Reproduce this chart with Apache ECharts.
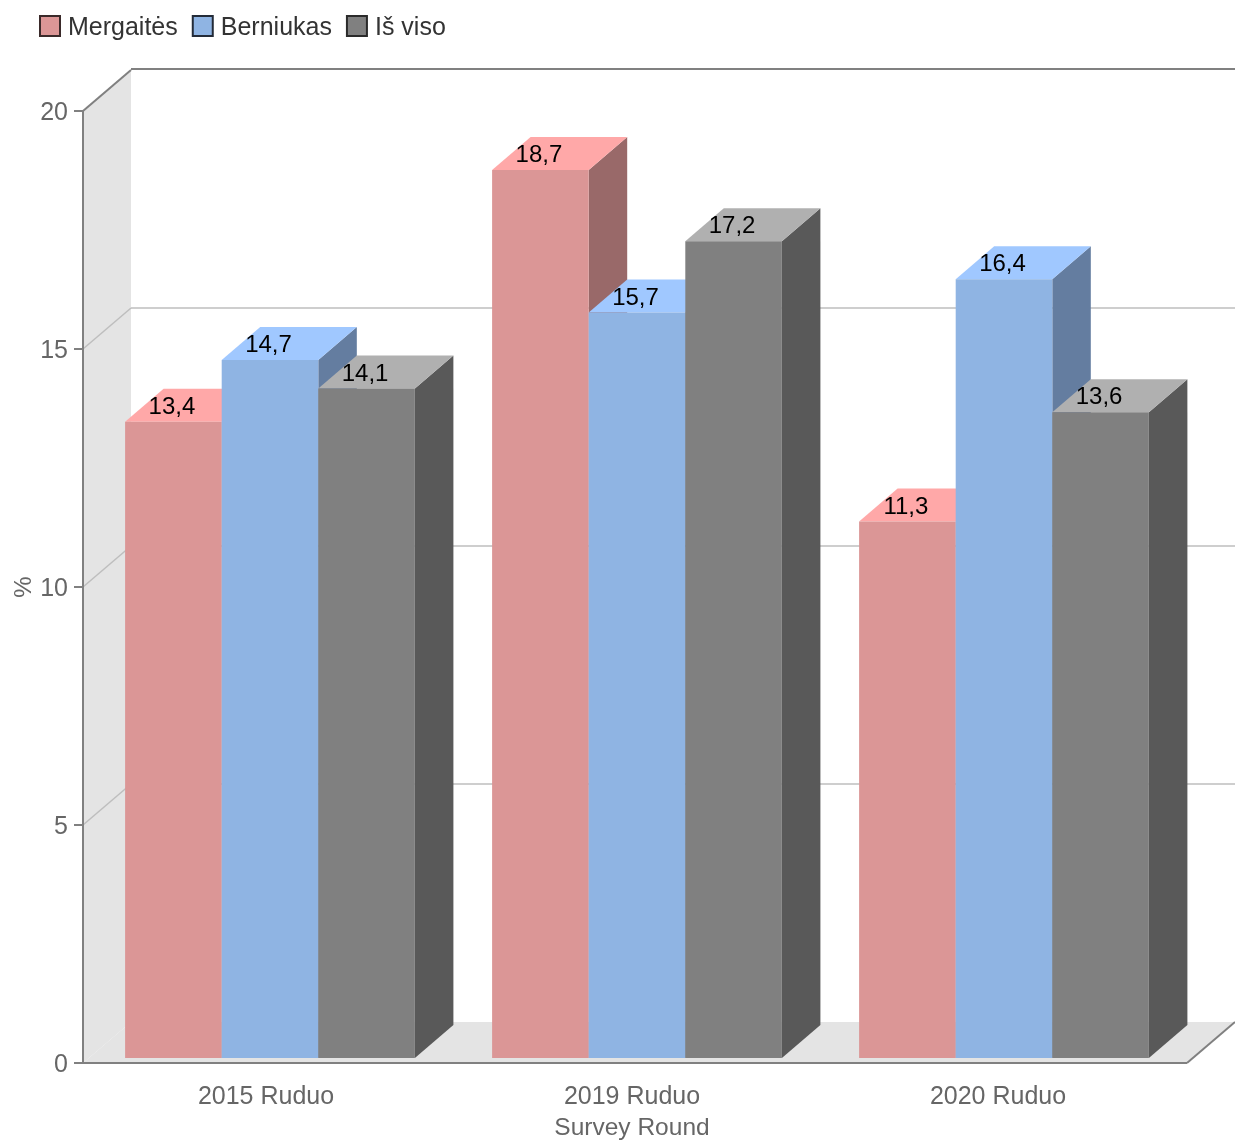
<!DOCTYPE html>
<html>
<head>
<meta charset="utf-8">
<style>html,body{margin:0;padding:0;background:#fff}#c{width:1235px;height:1141px}</style>
<script src="https://cdn.jsdelivr.net/npm/echarts@6/dist/echarts.min.js"></script>
</head>
<body>
<div id="c"></div>
<script>
const categories = ['2015 Ruduo', '2019 Ruduo', '2020 Ruduo'];
const girls = [13.4, 18.7, 11.3];
const boys = [14.7, 15.7, 16.4];
const total = [14.1, 17.2, 13.6];
const seriesNames = ['Mergaitės', 'Berniukas', 'Iš viso'];
const wallTicks = [5, 10, 15];

const FONT = '"Liberation Sans", Arial, sans-serif';
const WALL_DX = 48, WALL_DY = 41;
const BAR_W = 96.6, BAR_DX = 38.5, BAR_DY = 33, BAR_SHIFT = 4, BAR_LIFT = 5, BAR_SCALE = 0.9975;
const palettes = [
  { front: '#DB9696', top: '#FFA8A8', side: '#996969', edge: '#3a2a2a' },
  { front: '#8FB4E3', top: '#A0C8FF', side: '#647DA0', edge: '#232b38' },
  { front: '#808080', top: '#B0B0B0', side: '#595959', edge: '#2a2a2a' }
];

const chart = echarts.init(document.getElementById('c'), null, { renderer: 'canvas' });

function renderWalls(params, api) {
  if (params.dataIndex !== 0) return;
  const cs = params.coordSys;
  const L = cs.x, T = cs.y, B = cs.y + cs.height, R = L + 1104;
  const wall = { fill: '#E4E4E4' };
  const line = { stroke: '#BEBEBE', lineWidth: 1.5, fill: null };
  const dark = { stroke: '#808080', lineWidth: 2, fill: null };
  const ch = [
    { type: 'polygon', shape: { points: [[L, T], [L + WALL_DX, T - WALL_DY], [L + WALL_DX, B - WALL_DY], [L, B]] }, style: wall },
    { type: 'polygon', shape: { points: [[L, B], [R, B], [R + WALL_DX, B - WALL_DY], [L + WALL_DX, B - WALL_DY]] }, style: wall }
  ];
  wallTicks.forEach(v => {
    const y = api.coord([0, v])[1];
    ch.push({ type: 'line', shape: { x1: L, y1: y, x2: L + WALL_DX, y2: y - WALL_DY }, style: line });
    ch.push({ type: 'line', shape: { x1: L + WALL_DX, y1: y - WALL_DY, x2: R + WALL_DX, y2: y - WALL_DY }, style: line });
  });
  ch.push({ type: 'line', shape: { x1: L, y1: T, x2: L + WALL_DX, y2: T - WALL_DY }, style: dark });
  ch.push({ type: 'line', shape: { x1: L + WALL_DX, y1: T - WALL_DY - 1, x2: R + WALL_DX, y2: T - WALL_DY - 1 }, style: dark });
  ch.push({ type: 'line', shape: { x1: R, y1: B, x2: R + WALL_DX, y2: B - WALL_DY }, style: dark });
  ch.push({ type: 'line', shape: { x1: L + cs.width, y1: B, x2: R, y2: B }, style: { stroke: '#808080', lineWidth: 2 } });
  return { type: 'group', children: ch };
}

function barRenderer(seriesIdx) {
  const p = palettes[seriesIdx];
  return function (params, api) {
    const cat = api.value(0), val = api.value(1);
    const base = api.coord([cat, 0]);
    const topC = api.coord([cat, val]);
    const yB = base[1] - BAR_LIFT;
    const yT = yB - (base[1] - topC[1]) * BAR_SCALE;
    const x0 = base[0] + BAR_SHIFT + cat + (seriesIdx - 1.5) * BAR_W;
    const x1 = x0 + BAR_W;
    return {
      type: 'group',
      children: [
        { type: 'polygon', shape: { points: [[x1, yT], [x1 + BAR_DX, yT - BAR_DY], [x1 + BAR_DX, yB - BAR_DY], [x1, yB]] }, style: { fill: p.side } },
        { type: 'polygon', shape: { points: [[x0, yT], [x0 + BAR_DX, yT - BAR_DY], [x1 + BAR_DX, yT - BAR_DY], [x1, yT]] }, style: { fill: p.top } },
        { type: 'rect', shape: { x: x0, y: yT, width: BAR_W, height: yB - yT }, style: { fill: p.front } },
        { type: 'text', z2: 100, style: { x: (x0 + x1) / 2 - 1.5, y: yT - 14.5, text: String(val).replace('.', ','), fill: '#000', font: '24px ' + FONT, align: 'center', verticalAlign: 'middle' } }
      ]
    };
  };
}

const barData = [girls, boys, total];
const option = {
  animation: false,
  backgroundColor: '#fff',
  textStyle: { fontFamily: FONT },
  legend: {
    left: 39, top: 15, padding: 0, itemWidth: 20, itemHeight: 20, itemGap: 14,
    icon: 'rect',
    selectedMode: false,
    formatter: name => '{a|' + name + '}',
    data: seriesNames.map((n, i) => ({
      name: n,
      itemStyle: { color: palettes[i].front, borderColor: palettes[i].edge, borderWidth: 2 }
    })),
    textStyle: {
      color: '#333', fontSize: 25, fontFamily: FONT,
      rich: { a: { color: '#333', fontSize: 25, fontFamily: FONT, padding: [4, 0, 0, 3] } }
    }
  },
  grid: { left: 83, top: 111, width: 1098, height: 952, outerBoundsMode: 'none' },
  xAxis: {
    type: 'category',
    data: categories,
    name: 'Survey Round',
    nameLocation: 'middle',
    nameGap: 53,
    nameMoveOverlap: false,
    nameTextStyle: { color: '#666', fontSize: 24.5, fontFamily: FONT },
    axisLine: { lineStyle: { color: '#808080', width: 2 } },
    axisTick: { alignWithLabel: true, length: 9, lineStyle: { color: '#808080', width: 2 } },
    axisLabel: { color: '#666', fontSize: 25, fontFamily: FONT, margin: 22 }
  },
  yAxis: {
    type: 'value', min: 0, max: 20, interval: 5,
    name: '%',
    nameLocation: 'middle',
    nameGap: 47,
    nameRotate: 90,
    nameMoveOverlap: false,
    nameTextStyle: { color: '#666', fontSize: 24, fontFamily: FONT },
    axisLine: { show: true, lineStyle: { color: '#808080', width: 2 } },
    axisTick: { show: true, length: 9, lineStyle: { color: '#808080', width: 2 } },
    axisLabel: {
      color: '#666', fontSize: 25, fontFamily: FONT, margin: 15,
      formatter: '{a|{value}}',
      rich: { a: { color: '#666', fontSize: 25, fontFamily: FONT, padding: [4, 0, 0, 0] } }
    },
    splitLine: { show: false }
  },
  series: [
    { type: 'custom', name: 'walls', silent: true, z: 0, renderItem: renderWalls, data: [[0, 0]], encode: { x: 0, y: 1 } }
  ].concat(seriesNames.map((n, i) => ({
    type: 'custom',
    name: n,
    z: 3 + i,
    itemStyle: { color: palettes[i].front },
    renderItem: barRenderer(i),
    encode: { x: 0, y: 1 },
    data: barData[i].map((v, c) => [c, v])
  })))
};
chart.setOption(option);
</script>
</body>
</html>
